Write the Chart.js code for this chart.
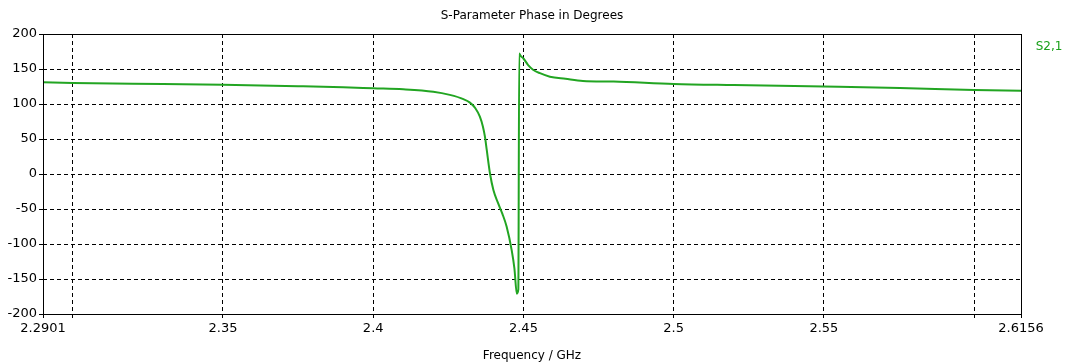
<!DOCTYPE html>
<html>
<head>
<meta charset="utf-8">
<script src="https://cdn.jsdelivr.net/npm/chart.js@4.4.0/dist/chart.umd.min.js"></script>
<style>
  html, body { margin: 0; padding: 0; background: #fff; }
  #wrap { width: 1082px; height: 363px; }
</style>
</head>
<body>
<div id="wrap"><canvas id="phaseChart"></canvas></div>
<script>
// S21 phase
const freqGHz = [2.2901, 2.30, 2.32, 2.35, 2.375, 2.39, 2.40, 2.41, 2.42, 2.4255, 2.43, 2.4322, 2.434, 2.4355,
    2.4365, 2.4372, 2.4378, 2.4389, 2.4400, 2.4415, 2.443, 2.4444, 2.4461, 2.447, 2.4478, 2.4483, 2.4486,
    2.4490, 2.4500, 2.4515, 2.4532, 2.4555, 2.4588, 2.4640, 2.4698, 2.48, 2.50, 2.52, 2.55, 2.5753, 2.60, 2.6156];
const phaseDeg = [131, 130, 129, 127.5, 125.5, 124, 122.5, 121, 117.5, 113, 107, 102, 94, 82,
    68, 53, 34, 0, -23, -41, -57, -75, -109, -135, -171, -165, 172,
    169, 165, 156, 149, 144, 139, 136, 133, 132, 128.6, 127, 125, 123, 120, 119];

const xTickValues = [2.2901, 2.30, 2.35, 2.40, 2.45, 2.50, 2.55, 2.60, 2.6156];
const xTickLabels = ['2.2901', '', '2.35', '2.4', '2.45', '2.5', '2.55', '', '2.6156'];
const yTickValues = [-200, -150, -100, -50, 0, 50, 100, 150, 200];

const FONT = 'DejaVu Sans';
const edgeX = [2.2901, 2.6156];

// solid frame round the plot + trace name on the right
const framePlugin = {
    id: 'frame',
    afterDraw(chart) {
        const a = chart.chartArea, ctx = chart.ctx;
        ctx.save();
        ctx.strokeStyle = '#000';
        ctx.lineWidth = 1;
        ctx.strokeRect(Math.round(a.left) + 0.5, Math.round(a.top) + 0.5,
            Math.round(a.right - a.left), Math.round(a.bottom - a.top));
        ctx.fillStyle = '#1aa01a';
        ctx.font = '12px ' + FONT;
        ctx.textAlign = 'center';
        ctx.textBaseline = 'middle';
        ctx.fillText(chart.data.datasets[0].label, a.right + 28, a.top + 13);
        ctx.restore();
    }
};

new Chart(document.getElementById('phaseChart').getContext('2d'), {
    type: 'scatter',
    data: {
        datasets: [{
            label: 'S2,1',
            data: freqGHz.map((f, i) => ({ x: f, y: phaseDeg[i] })),
            showLine: true,
            borderColor: '#22a522',
            borderWidth: 2,
            pointRadius: 0,
            cubicInterpolationMode: 'monotone',
            fill: false
        }]
    },
    options: {
        responsive: true, maintainAspectRatio: false, animation: false,
        layout: { padding: { top: 0, right: 61, left: 0, bottom: 0 } },
        plugins: {
            legend: { display: false },
            tooltip: { enabled: false },
            title: {
                display: true, fullSize: false,
                text: 'S-Parameter Phase in Degrees',
                color: '#000',
                font: { family: FONT, size: 12, weight: 'normal' },
                padding: { top: 9, bottom: 10.6 }
            }
        },
        scales: {
            x: {
                type: 'linear', min: 2.2901, max: 2.6156,
                afterBuildTicks: s => { s.ticks = xTickValues.map(v => ({ value: v })); },
                afterFit: s => { s.height = 49; },
                ticks: {
                    color: '#000', font: { family: FONT, size: 13 }, padding: 3, maxRotation: 0, autoSkip: false,
                    callback: (v, i) => xTickLabels[i]
                },
                grid: {
                    color: c => edgeX.includes(c.tick && c.tick.value) ? 'rgba(0,0,0,0)' : '#000',
                    lineWidth: 1, drawTicks: true, tickLength: 4,
                    tickColor: '#000', tickBorderDash: [4, 3]
                },
                border: { display: false, dash: [4, 3] },
                title: {
                    display: true, text: 'Frequency / GHz', color: '#000',
                    font: { family: FONT, size: 12 }, padding: { top: 0, bottom: 0 }
                }
            },
            y: {
                min: -200, max: 200,
                afterBuildTicks: s => { s.ticks = yTickValues.map(v => ({ value: v })); },
                afterFit: s => { s.width = 43; },
                ticks: { color: '#000', font: { family: FONT, size: 13 }, padding: 2 },
                grid: {
                    color: c => (c.tick && Math.abs(c.tick.value) === 200) ? 'rgba(0,0,0,0)' : '#000',
                    lineWidth: 1, tickLength: 4, tickColor: '#000', tickBorderDash: []
                },
                border: { display: false, dash: [4, 3] }
            }
        }
    },
    plugins: [framePlugin]
});
</script>
</body>
</html>
